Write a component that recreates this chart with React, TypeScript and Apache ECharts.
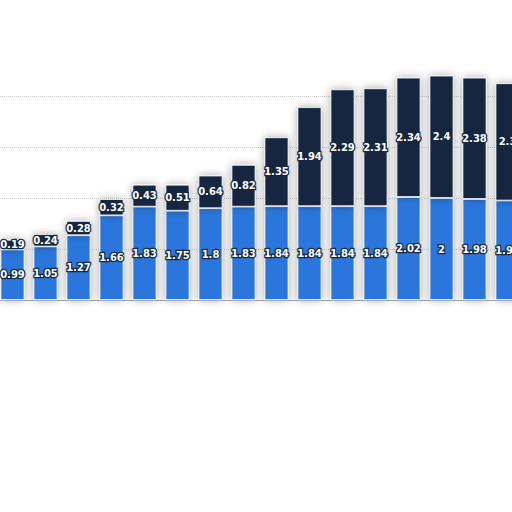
import React, { useEffect, useRef } from 'react';
import * as echarts from 'echarts';

const categories = ['1', '2', '3', '4', '5', '6', '7', '8', '9', '10', '11', '12', '13', '14', '15', '16'];
const lowerValues = [0.99, 1.05, 1.27, 1.66, 1.83, 1.75, 1.8, 1.83, 1.84, 1.84, 1.84, 1.84, 2.02, 2, 1.98, 1.95];
const upperValues = [0.19, 0.24, 0.28, 0.32, 0.43, 0.51, 0.64, 0.82, 1.35, 1.94, 2.29, 2.31, 2.34, 2.4, 2.38, 2.3];

const BLUE = '#2b76dc';
const NAVY = '#13273f';

const App: React.FC = () => {
  const chartRef = useRef<HTMLDivElement>(null);

  useEffect(() => {
    if (!chartRef.current) return;
    const chart = echarts.init(chartRef.current, undefined, { renderer: 'svg' });

    const label = {
      show: true,
      position: 'inside' as const,
      color: '#fff',
      fontFamily: 'DejaVu Sans',
      fontWeight: 'bold' as const,
      fontSize: 10,
      textBorderColor: NAVY,
      textBorderWidth: 2.5,
    };

    const itemStyle = (color: string) => ({
      color,
      borderColor: '#fff',
      borderWidth: 0.8,
      shadowBlur: 9,
      shadowColor: 'rgba(0,0,0,0.35)',
    });

    const option: echarts.EChartsOption = {
      animation: false,
      grid: { left: 0, right: 0, top: 45, bottom: 212, containLabel: false, outerBoundsMode: 'none' } as any,
      xAxis: {
        type: 'category',
        data: categories,
        axisLine: { show: true, lineStyle: { color: '#a8a8a8', width: 1 } },
        axisTick: { show: false },
        axisLabel: { show: false },
      },
      yAxis: {
        type: 'value',
        min: 0,
        max: 5,
        interval: 1,
        axisLabel: { show: false },
        axisLine: { show: false },
        axisTick: { show: false },
        splitLine: {
          show: true,
          showMinLine: false,
          showMaxLine: false,
          lineStyle: { color: '#cfcfcf', type: 'dotted', width: 1 },
        },
      },
      series: [
        {
          name: 'lower',
          type: 'bar',
          stack: 'total',
          barWidth: 24,
          data: lowerValues,
          itemStyle: itemStyle(BLUE),
          label,
        },
        {
          name: 'upper',
          type: 'bar',
          stack: 'total',
          barWidth: 24,
          data: upperValues,
          itemStyle: itemStyle(NAVY),
          label,
        },
      ],
    };

    chart.setOption(option);

    return () => {
      chart.dispose();
    };
  }, []);

  return (
    <div
      style={{
        position: 'fixed',
        left: 0,
        top: 0,
        width: '512px',
        height: '512px',
        overflow: 'hidden',
        background: '#fff',
      }}
    >
      <div
        ref={chartRef}
        style={{ position: 'absolute', left: '-4px', top: 0, width: '528px', height: '512px' }}
      />
    </div>
  );
};

export default App;
